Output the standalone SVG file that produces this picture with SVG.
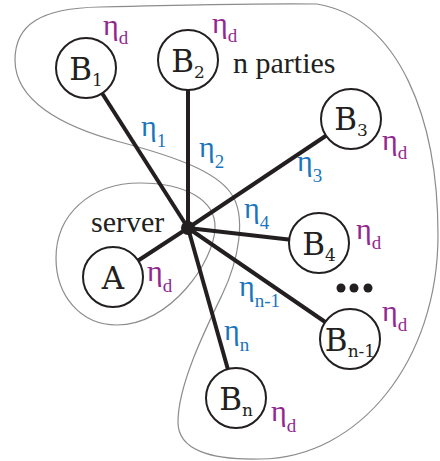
<svg xmlns="http://www.w3.org/2000/svg" width="440" height="461" viewBox="0 0 440 461">
<style>
.blob{fill:none;stroke:#8c8c8c;stroke-width:1.2}
.edge{stroke:#231f20;stroke-width:4;stroke-linecap:butt}
.node{fill:#ffffff;stroke:#231f20;stroke-width:2}
.lbl{font-family:"DejaVu Serif","Liberation Serif",serif;font-size:31px;fill:#231f20;text-anchor:middle}
.sub{font-size:17px}
.eta{font-family:"Liberation Serif","Times New Roman",serif;font-size:30px}
.etasub{font-size:19px}
.d{fill:#92278f}
.b{fill:#1b75bc}
.txt{font-family:"Liberation Serif","Times New Roman",serif;font-size:30px;fill:#231f20}
</style>
<rect width="440" height="461" fill="#ffffff"/>
<g id="regions">
<path class="blob" d="M 15 60 C 15 25 40 8 100 7 C 180 5 260 3 317 4 C 400 18 438 120 438 235 C 438 360 360 458 260 459 C 210 460 178 450 178 422 C 178 385 205 330 222 295 C 238 262 248 215 230 192 C 215 172 180 158 120 142 C 60 126 15 100 15 60 Z"/>
<path class="blob" d="M 117 325 C 80 325 56 295 56 258 C 56 215 90 183 140 183 C 185 183 216 200 215 228 C 214 262 170 325 117 325 Z"/>
</g>
<g id="connectors">
<line class="edge" x1="188" y1="228" x2="86" y2="68"/>
<line class="edge" x1="188" y1="228" x2="188" y2="60"/>
<line class="edge" x1="188" y1="228" x2="351" y2="119"/>
<line class="edge" x1="188" y1="228" x2="319" y2="243"/>
<line class="edge" x1="188" y1="228" x2="350" y2="339"/>
<line class="edge" x1="188" y1="228" x2="236" y2="398"/>
<line class="edge" x1="188" y1="228" x2="113" y2="277"/>
</g>
<g id="hub"><circle cx="188" cy="228" r="7" fill="#231f20"/></g>
<g id="B1"><circle class="node" cx="86" cy="68" r="30"/><text class="lbl" x="86" y="80">B<tspan class="sub" dy="6">1</tspan></text></g>
<g id="B2"><circle class="node" cx="188" cy="60" r="30"/><text class="lbl" x="188" y="72">B<tspan class="sub" dy="6">2</tspan></text></g>
<g id="B3"><circle class="node" cx="351" cy="119" r="30"/><text class="lbl" x="351" y="130">B<tspan class="sub" dy="6">3</tspan></text></g>
<g id="B4"><circle class="node" cx="319" cy="243" r="30"/><text class="lbl" x="319" y="255">B<tspan class="sub" dy="6">4</tspan></text></g>
<g id="Bn-1"><circle class="node" cx="350" cy="339" r="30"/><text class="lbl" x="350" y="351">B<tspan class="sub" dy="6">n-1</tspan></text></g>
<g id="Bn"><circle class="node" cx="236" cy="398" r="30"/><text class="lbl" x="236" y="410">B<tspan class="sub" dy="6">n</tspan></text></g>
<g id="A"><circle class="node" cx="113" cy="277" r="30"/><text class="lbl" x="113" y="289">A</text></g>
<g id="dots" fill="#231f20">
<circle cx="341" cy="288" r="4.5"/><circle cx="354" cy="288" r="4.5"/><circle cx="368" cy="288" r="4.5"/>
</g>
<g id="labels">
<text class="txt" x="91" y="232">server</text>
<text class="txt" x="233" y="73">n parties</text>
<text class="eta d" x="103" y="35">η<tspan class="etasub" dy="9">d</tspan></text>
<text class="eta d" x="212" y="33">η<tspan class="etasub" dy="9">d</tspan></text>
<text class="eta d" x="382" y="150">η<tspan class="etasub" dy="9">d</tspan></text>
<text class="eta d" x="356" y="239">η<tspan class="etasub" dy="10">d</tspan></text>
<text class="eta d" x="382" y="321">η<tspan class="etasub" dy="10">d</tspan></text>
<text class="eta d" x="271" y="421">η<tspan class="etasub" dy="11">d</tspan></text>
<text class="eta d" x="147" y="281">η<tspan class="etasub" dy="11">d</tspan></text>
<text class="eta b" x="141" y="136">η<tspan class="etasub" dy="11">1</tspan></text>
<text class="eta b" x="199" y="157">η<tspan class="etasub" dy="11">2</tspan></text>
<text class="eta b" x="297" y="171">η<tspan class="etasub" dy="11">3</tspan></text>
<text class="eta b" x="244" y="218">η<tspan class="etasub" dy="11">4</tspan></text>
<text class="eta b" x="239" y="296">η<tspan class="etasub" dy="11">n-1</tspan></text>
<text class="eta b" x="224" y="340">η<tspan class="etasub" dy="11">n</tspan></text>
</g>
</svg>
